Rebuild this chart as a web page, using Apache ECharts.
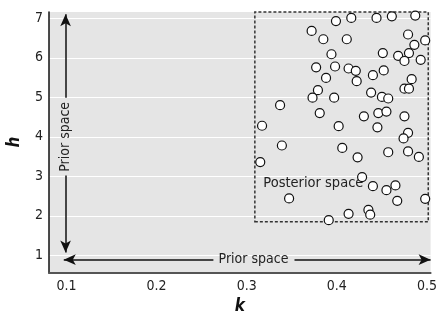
<!DOCTYPE html>
<html><head><meta charset="utf-8">
<script src="https://cdn.jsdelivr.net/npm/echarts@6/dist/echarts.min.js"></script>
<style>html,body{margin:0;padding:0;background:#fff}#c{width:440px;height:320px}</style>
</head><body><div id="c"></div>
<script>
const kValues = [0.399,0.416,0.444,0.461,0.487,0.372,0.385,0.411,0.479,0.498,0.486,0.394,0.451,0.468,0.480,0.475,0.493,0.377,0.398,0.413,0.421,0.452,0.440,0.388,0.422,0.483,0.379,0.373,0.397,0.475,0.480,0.438,0.450,0.457,0.337,0.381,0.430,0.446,0.455,0.475,0.317,0.402,0.445,0.479,0.474,0.339,0.406,0.423,0.457,0.479,0.491,0.315,0.428,0.440,0.455,0.465,0.347,0.467,0.498,0.413,0.435,0.437,0.391];
const hValues = [6.93,7.01,7.01,7.05,7.07,6.68,6.47,6.47,6.59,6.44,6.33,6.09,6.12,6.05,6.12,5.92,5.95,5.76,5.78,5.73,5.67,5.68,5.56,5.49,5.41,5.46,5.18,4.99,4.99,5.22,5.22,5.12,5.01,4.97,4.80,4.60,4.52,4.60,4.64,4.52,4.28,4.27,4.24,4.10,3.96,3.78,3.72,3.48,3.61,3.63,3.49,3.36,2.98,2.75,2.65,2.77,2.44,2.38,2.43,2.05,2.15,2.03,1.89];
const kTicks = [0.1,0.2,0.3,0.4,0.5];
const hTicks = [1,2,3,4,5,6,7];
const posteriorBox = [[0.309,1.85],[0.5014,7.16]];

const font = '"Liberation Sans Narrow","DejaVu Sans Condensed",sans-serif';
const points = kValues.map((k,i)=>[k,hValues[i]]);
const arrowStyle = {color:'#111',width:1.5,type:'solid'};
const chart = echarts.init(document.getElementById('c'),null,{renderer:'canvas'});
chart.setOption({
  animation:false,
  grid:{left:49,right:5,top:12,bottom:40,show:true,backgroundColor:'#e5e5e5',borderWidth:0},
  graphic:[{type:'group',x:15,y:142,rotation:Math.PI/2,
    children:[{type:'text',x:0,y:0,
      style:{text:'h',fontFamily:font,fontSize:17,fontWeight:'bold',fontStyle:'italic',fill:'#111',align:'center',verticalAlign:'middle'}}]}],
  xAxis:{type:'value',min:0.0806,max:0.504,
    name:'k',nameLocation:'middle',nameGap:22,
    nameTextStyle:{fontFamily:font,fontSize:17,fontWeight:'bold',fontStyle:'italic',color:'#111'},
    axisLine:{show:true,lineStyle:{color:'#555',width:2}},
    axisTick:{show:false,customValues:kTicks},
    axisLabel:{customValues:kTicks,fontFamily:font,fontSize:14,color:'#222',margin:6,formatter:v=>v.toFixed(1)},
    splitLine:{show:false}},
  yAxis:{type:'value',min:0.55,max:7.16,
    axisLine:{show:true,lineStyle:{color:'#111',width:1.5}},
    axisTick:{show:false,customValues:hTicks},
    axisLabel:{customValues:hTicks,fontFamily:font,fontSize:14,color:'#222',margin:6},
    splitLine:{show:true,lineStyle:{color:'#ffffff',width:1.2}}},
  series:[{
    type:'scatter',data:points,symbol:'circle',symbolSize:9,
    itemStyle:{color:'#fff',borderColor:'#111',borderWidth:1.2,opacity:1},
    z:5,
    markArea:{silent:true,itemStyle:{color:'rgba(0,0,0,0)',borderColor:'#333',borderWidth:1.5,borderType:[3,2]},
      data:[[{coord:posteriorBox[0]},{coord:posteriorBox[1]}]]},
    markLine:{silent:true,symbol:['none','arrow'],symbolSize:[8,12],lineStyle:arrowStyle,label:{show:false},
      data:[
        [{coord:[0.099,4.99]},{coord:[0.099,7.1]}],
        [{coord:[0.099,3.02]},{coord:[0.099,1.07]}],
        [{coord:[0.263,0.89]},{coord:[0.097,0.89]}],
        [{coord:[0.353,0.89]},{coord:[0.504,0.89]}]
      ]},
    markPoint:{silent:true,symbol:'circle',symbolSize:0,
      data:[
        {coord:[0.099,4.0],label:{show:true,formatter:'Prior space',rotate:90,position:'inside',fontFamily:font,fontSize:14,color:'#222'}},
        {coord:[0.3075,0.89],label:{show:true,formatter:'Prior space',position:'inside',fontFamily:font,fontSize:14,color:'#222'}},
        {coord:[0.3184,2.82],label:{show:true,formatter:'Posterior space',position:'right',distance:0,fontFamily:font,fontSize:14.5,color:'#222'}}
      ]}
  }]
});
</script></body></html>
